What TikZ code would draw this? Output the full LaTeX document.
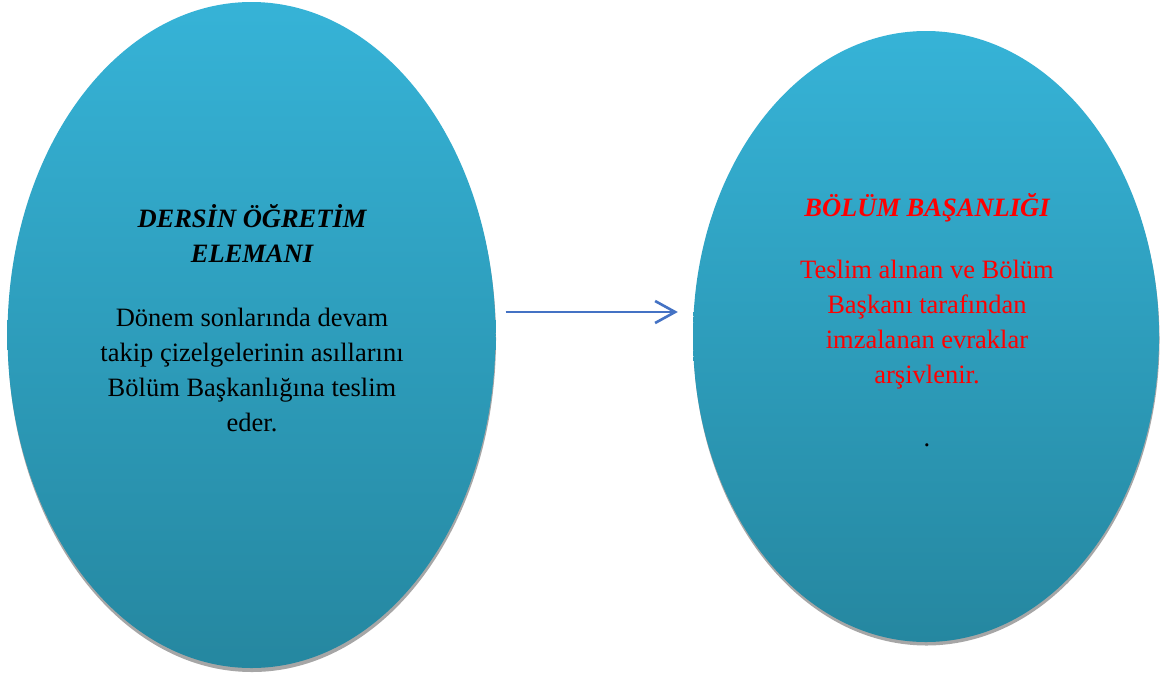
\documentclass[tikz,border=0pt]{standalone}
\usepackage{fontspec}
\setmainfont{Liberation Serif}
\usetikzlibrary{shapes.geometric,arrows.meta}
\definecolor{bubbletop}{RGB}{54,179,215}
\definecolor{bubblebottom}{RGB}{37,135,160}
\definecolor{bubbleshadow}{RGB}{166,166,166}
\definecolor{flowblue}{RGB}{68,114,196}
\definecolor{notered}{RGB}{255,0,0}
\tikzset{
  bubble/.style={ellipse, inner sep=0pt, draw=none, top color=bubbletop, bottom color=bubblebottom},
  bubbleshade/.style={ellipse, inner sep=0pt, draw=none, fill=bubbleshadow},
  heading/.style={align=center, inner sep=0pt, font=\fontsize{26.5}{35}\selectfont\bfseries\itshape},
  bodytext/.style={align=center, inner sep=0pt, font=\fontsize{26.5}{35}\selectfont},
  flow/.style={draw=flowblue, line width=2.6pt, -{Straight Barb[length=20pt,width=22pt]}}
}
\begin{document}
\begin{tikzpicture}[x=1pt,y=-1pt]
\useasboundingbox (0,0) rectangle (1161,675);
\fill[white] (0,0) rectangle (1161,675);

% left bubble: the lecturer
\node[bubbleshade, minimum width=488pt, minimum height=666pt] (lecturershadow) at (252,339) {};
\node[bubble, minimum width=488pt, minimum height=666pt] (lecturer) at (251.5,335) {};
\node[heading] (lecturertitle) at (252,233.5) {DERSİN ÖĞRETİM\\ELEMANI};
\node[bodytext] (lecturertext) at (252,370) {Dönem sonlarında devam\\takip çizelgelerinin asıllarını\\Bölüm Başkanlığına teslim\\eder.};

% right bubble: the department head's office
\node[bubbleshade, minimum width=466pt, minimum height=611pt] (archiveshadow) at (926.5,340) {};
\node[bubble, minimum width=466pt, minimum height=611pt] (archive) at (926,336.5) {};
\node[heading, text=notered] (archivetitle) at (927,208) {BÖLÜM BAŞANLIĞI};
\node[bodytext, text=notered] (archivetext) at (927,324.5) {Teslim alınan ve Bölüm\\Başkanı tarafından\\imzalanan evraklar\\arşivlenir.};
\node[bodytext, anchor=base] (archivedot) at (927,446) {.};

% hand-over arrow
\path (lecturer.east) ++(10,-23) coordinate (flowstart);
\path (archive.west) ++(-15,-24.5) coordinate (flowend);
\draw[flow] (flowstart) -- (flowend);
\end{tikzpicture}
\end{document}
